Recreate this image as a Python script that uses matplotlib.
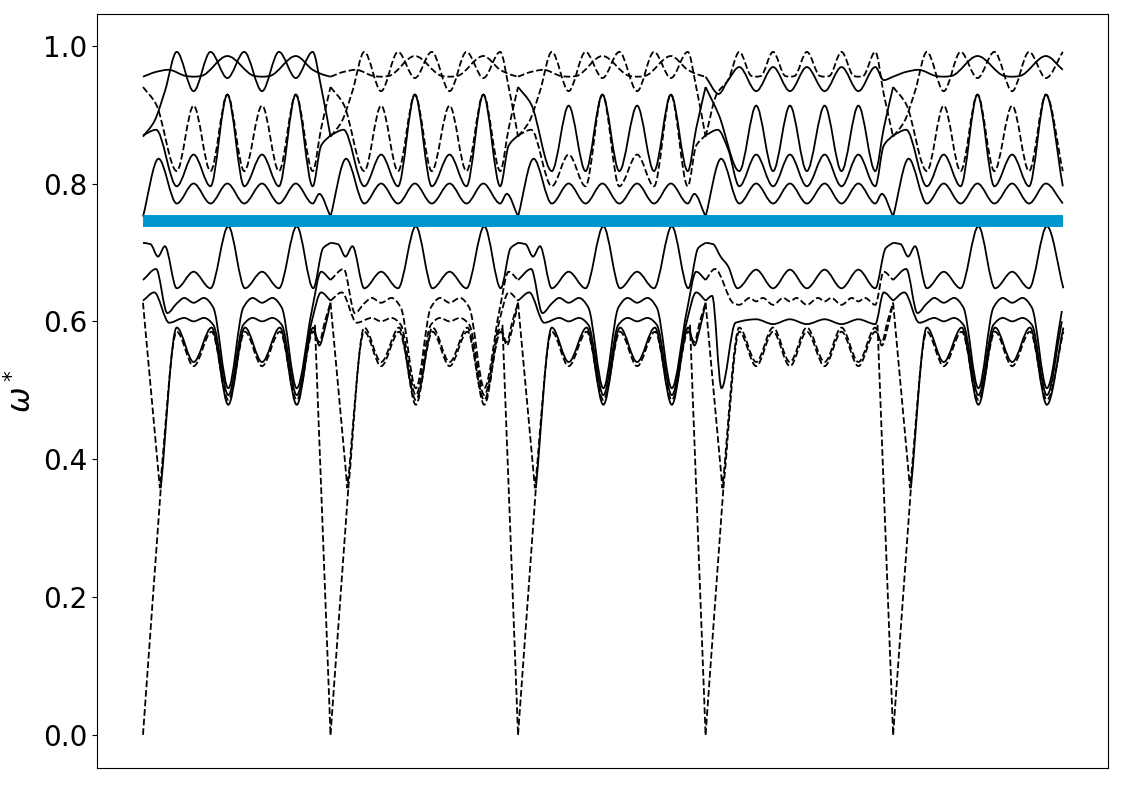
import numpy as np
import matplotlib
matplotlib.use("Agg")
import matplotlib.pyplot as plt
from matplotlib.path import Path
from matplotlib.patches import PathPatch

# segments along the path (each one unit long, last one cut short)
seg_start = [0, 1, 2, 3, 4]
seg_kind = ["P", "P", "P", "Q", "P"]
seg_end = [1.0, 1.0, 1.0, 1.0, 0.91]
path_end = 4.906
blue_level = 0.7456

# ---- template "P" (long-period segments), local coordinate s in [0, 1] ----
p_t1_s = [0.0, 0.06, 0.117, 0.18, 0.27, 0.36, 0.45, 0.54, 0.635, 0.725, 0.815, 0.905, 0.95, 1.0]
p_t1_v = [0.868, 0.89, 0.934, 0.991, 0.934, 0.991, 0.953, 0.991, 0.934, 0.991, 0.953, 0.991, 0.94, 0.868]

p_t2_s = [0.0, 0.07, 0.135, 0.23, 0.27, 0.31, 0.45, 0.595, 0.635, 0.675, 0.815, 0.905, 0.96, 1.0]
p_t2_v = [0.955, 0.962, 0.965, 0.956, 0.955, 0.956, 0.985, 0.956, 0.955, 0.956, 0.985, 0.965, 0.958, 0.955]

p_d1_s = [0.0, 0.07, 0.18, 0.27, 0.36, 0.45, 0.54, 0.635, 0.725, 0.815, 0.905, 0.95, 1.0]
p_d1_v = [0.94, 0.915, 0.818, 0.913, 0.818, 0.929, 0.818, 0.913, 0.818, 0.929, 0.818, 0.88, 0.94]

p_s2_s = [0.0, 0.07, 0.18, 0.27, 0.36, 0.45, 0.54, 0.635, 0.725, 0.815, 0.905, 0.95, 1.0]
p_s2_v = [0.87, 0.878, 0.796, 0.842, 0.796, 0.929, 0.796, 0.842, 0.796, 0.929, 0.796, 0.855, 0.87]

p_s3_s = [0.0, 0.083, 0.18, 0.27, 0.36, 0.45, 0.54, 0.635, 0.725, 0.815, 0.905, 0.94, 1.0]
p_s3_v = [0.752, 0.836, 0.771, 0.80, 0.771, 0.80, 0.771, 0.80, 0.771, 0.80, 0.771, 0.785, 0.752]

p_l1_s = [0.0, 0.04, 0.08, 0.117, 0.18, 0.27, 0.36, 0.455, 0.544, 0.635, 0.725, 0.82, 0.908, 0.96, 1.0]
p_l1_v = [0.714, 0.712, 0.694, 0.709, 0.648, 0.672, 0.648, 0.738, 0.648, 0.672, 0.648, 0.738, 0.648, 0.706, 0.714]

p_l2a_s = [0.0, 0.07, 0.13, 0.18, 0.22, 0.27, 0.325, 0.375, 0.455, 0.535, 0.585, 0.635, 0.69, 0.74, 0.82, 0.9, 0.95, 1.0]
p_l2a_v = [0.66, 0.676, 0.612, 0.626, 0.634, 0.627, 0.634, 0.62, 0.503, 0.62, 0.634, 0.627, 0.634, 0.62, 0.503, 0.615, 0.672, 0.66]

p_l2b_s = [0.0, 0.06, 0.14, 0.22, 0.27, 0.325, 0.375, 0.455, 0.535, 0.585, 0.635, 0.69, 0.74, 0.82, 0.9, 0.95, 1.0]
p_l2b_v = [0.63, 0.642, 0.598, 0.605, 0.600, 0.605, 0.595, 0.493, 0.595, 0.605, 0.600, 0.605, 0.595, 0.493, 0.60, 0.642, 0.63]

p_l3_s = [0.095, 0.18, 0.27, 0.366, 0.455, 0.544, 0.635, 0.73, 0.82, 0.908, 0.94, 0.97, 1.0]
p_l3_v = [0.358, 0.591, 0.541, 0.591, 0.479, 0.591, 0.541, 0.591, 0.479, 0.591, 0.565, 0.59, 0.627]

p_l3p_s = [0.0, 0.09, 0.18, 0.27, 0.366, 0.455, 0.544, 0.635, 0.73, 0.82, 0.908, 0.94, 0.97, 1.0]
p_l3p_v = [0.627, 0.358, 0.585, 0.535, 0.585, 0.486, 0.585, 0.535, 0.585, 0.486, 0.585, 0.57, 0.6, 0.627]

ac_up_s = [0.0, 0.095]
ac_up_v = [0.0, 0.358]
ac_dn_s = [0.917, 1.0]
ac_dn_v = [0.595, 0.0]

# ---- template "Q" (short-period segment) ----
q_t1_s = [0.0, 0.06, 0.12, 0.18, 0.245, 0.27, 0.295, 0.36, 0.425, 0.45, 0.475, 0.54, 0.61, 0.635,
          0.66, 0.725, 0.79, 0.815, 0.84, 0.905, 0.95, 1.0]
q_t1_v = [0.868, 0.93, 0.95, 0.991, 0.956, 0.955, 0.956, 0.991, 0.956, 0.955, 0.956, 0.991, 0.956, 0.955,
          0.956, 0.991, 0.956, 0.955, 0.956, 0.991, 0.93, 0.868]

q_t2_s = [0.0, 0.07, 0.12, 0.18, 0.27, 0.36, 0.45, 0.54, 0.635, 0.725, 0.815, 0.905, 0.95, 1.0]
q_t2_v = [0.955, 0.93, 0.95, 0.969, 0.934, 0.969, 0.934, 0.969, 0.934, 0.969, 0.934, 0.969, 0.95, 0.955]

q_d1_s = [0.0, 0.07, 0.18, 0.27, 0.36, 0.45, 0.54, 0.635, 0.725, 0.815, 0.905, 0.95, 1.0]
q_d1_v = [0.94, 0.9, 0.818, 0.913, 0.818, 0.913, 0.818, 0.913, 0.818, 0.913, 0.818, 0.88, 0.94]

q_s2_s = [0.0, 0.065, 0.12, 0.18, 0.27, 0.36, 0.45, 0.54, 0.635, 0.725, 0.815, 0.905, 0.95, 1.0]
q_s2_v = [0.87, 0.878, 0.85, 0.796, 0.842, 0.796, 0.842, 0.796, 0.842, 0.796, 0.842, 0.796, 0.855, 0.87]

q_l1_s = [0.0, 0.04, 0.08, 0.12, 0.17, 0.27, 0.36, 0.45, 0.54, 0.635, 0.725, 0.815, 0.905, 0.96, 1.0]
q_l1_v = [0.714, 0.712, 0.694, 0.68, 0.648, 0.675, 0.648, 0.675, 0.648, 0.675, 0.648, 0.675, 0.648, 0.706, 0.714]

q_l2a_s = [0.0, 0.05, 0.15, 0.18, 0.235, 0.27, 0.305, 0.36, 0.415, 0.45, 0.485, 0.54, 0.6, 0.635,
           0.67, 0.725, 0.78, 0.815, 0.85, 0.905, 0.95, 1.0]
q_l2a_v = [0.66, 0.676, 0.626, 0.624, 0.634, 0.629, 0.634, 0.624, 0.634, 0.629, 0.634, 0.624, 0.634, 0.629,
           0.634, 0.624, 0.634, 0.629, 0.634, 0.624, 0.672, 0.66]

q_l2b_s = [0.0, 0.035, 0.085, 0.16, 0.27, 0.36, 0.45, 0.54, 0.635, 0.725, 0.815, 0.905, 0.95, 1.0]
q_l2b_v = [0.63, 0.637, 0.503, 0.598, 0.603, 0.596, 0.603, 0.596, 0.603, 0.596, 0.603, 0.596, 0.642, 0.63]

q_l3_s = [0.0, 0.09, 0.18, 0.27, 0.36, 0.45, 0.54, 0.635, 0.725, 0.815, 0.905, 0.94, 0.97, 1.0]
q_l3_v = [0.627, 0.358, 0.591, 0.541, 0.591, 0.541, 0.591, 0.541, 0.591, 0.541, 0.591, 0.565, 0.59, 0.627]

q_l3p_s = [0.095, 0.18, 0.27, 0.36, 0.45, 0.54, 0.635, 0.725, 0.815, 0.905, 0.94, 0.97, 1.0]
q_l3p_v = [0.358, 0.585, 0.535, 0.585, 0.535, 0.585, 0.535, 0.585, 0.535, 0.585, 0.57, 0.6, 0.627]

curves_p = {
    "t1": (p_t1_s, p_t1_v), "t2": (p_t2_s, p_t2_v), "d1": (p_d1_s, p_d1_v),
    "s2": (p_s2_s, p_s2_v), "s3": (p_s3_s, p_s3_v), "l1": (p_l1_s, p_l1_v),
    "l2a": (p_l2a_s, p_l2a_v), "l2b": (p_l2b_s, p_l2b_v), "l3": (p_l3_s, p_l3_v),
    "l3p": (p_l3p_s, p_l3p_v), "acu": (ac_up_s, ac_up_v), "acd": (ac_dn_s, ac_dn_v),
}
curves_q = {
    "t1": (q_t1_s, q_t1_v), "t2": (q_t2_s, q_t2_v), "d1": (q_d1_s, q_d1_v),
    "s2": (q_s2_s, q_s2_v), "s3": (p_s3_s, p_s3_v), "l1": (q_l1_s, q_l1_v),
    "l2a": (q_l2a_s, q_l2a_v), "l2b": (q_l2b_s, q_l2b_v), "l3": (q_l3_s, q_l3_v),
    "l3p": (q_l3p_s, q_l3p_v), "acu": (ac_up_s, ac_up_v), "acd": (ac_dn_s, ac_dn_v),
}

# solid / dashed per segment
styles = {
    "t1":  ["-", "--", "--", "--", "--"],
    "t2":  ["-", "--", "--", "-", "-"],
    "d1":  ["--", "--", "-", "-", "--"],
    "s2":  ["-", "-", "--", "-", "-"],
    "s3":  ["-", "-", "-", "-", "-"],
    "l1":  ["-", "-", "-", "-", "-"],
    "l2a": ["-", "--", "-", "--", "-"],
    "l2b": ["-", "--", "-", "-", "-"],
    "l3":  ["-", "--", "-", "--", "-"],
    "l3p": ["--", "--", "--", "--", "--"],
    "acu": ["--", "--", "--", "--", "--"],
    "acd": ["--", "--", "--", "--", "--"],
}


def smooth_path(xs, ys):
    # smooth curve through the read points (flat at extrema, sharp at steep V's)
    xs = np.asarray(xs, float)
    ys = np.asarray(ys, float)
    n = len(xs)
    d = np.diff(ys) / np.diff(xs)
    ml = np.zeros(n)
    mr = np.zeros(n)
    ml[0] = mr[0] = d[0]
    ml[-1] = mr[-1] = d[-1]
    for i in range(1, n - 1):
        a, b = d[i - 1], d[i]
        if a * b > 0:
            ml[i] = mr[i] = 2 * a * b / (a + b)
        elif abs(a) > 2 and abs(b) > 2:
            ml[i], mr[i] = a, b
    verts = [(xs[0], ys[0])]
    codes = [Path.MOVETO]
    for i in range(n - 1):
        h = xs[i + 1] - xs[i]
        verts += [(xs[i] + h / 3, ys[i] + mr[i] * h / 3),
                  (xs[i + 1] - h / 3, ys[i + 1] - ml[i + 1] * h / 3),
                  (xs[i + 1], ys[i + 1])]
        codes += [Path.CURVE4] * 3
    return Path(verts, codes)


fig, ax = plt.subplots(figsize=(11.25, 7.85), dpi=100)
fig.subplots_adjust(left=0.0862, right=0.9849, bottom=0.0217, top=0.9822)

for k in range(len(seg_start)):
    table = curves_p if seg_kind[k] == "P" else curves_q
    for name, (s, v) in table.items():
        s = np.asarray(s)
        v = np.asarray(v)
        keep = s <= seg_end[k] + 1e-9
        if keep.sum() < 2:
            continue
        x = seg_start[k] + s[keep]
        p = smooth_path(x, v[keep])
        ax.add_patch(PathPatch(p, fill=False, edgecolor="black", lw=1.3,
                               linestyle=styles[name][k], capstyle="butt"))

ax.plot([0, path_end], [blue_level, blue_level], color="#0096cf", lw=8.6,
        solid_capstyle="butt", zorder=3)

ax.set_xlim(-0.2453, 5.146)
ax.set_ylim(-0.048, 1.046)
ax.set_xticks([])
ax.set_yticks([0.0, 0.2, 0.4, 0.6, 0.8, 1.0])
ax.tick_params(axis="y", labelsize=20)
ax.set_ylabel(r"$\omega^*$", fontsize=22)

fig.savefig("out.png", dpi=100)
